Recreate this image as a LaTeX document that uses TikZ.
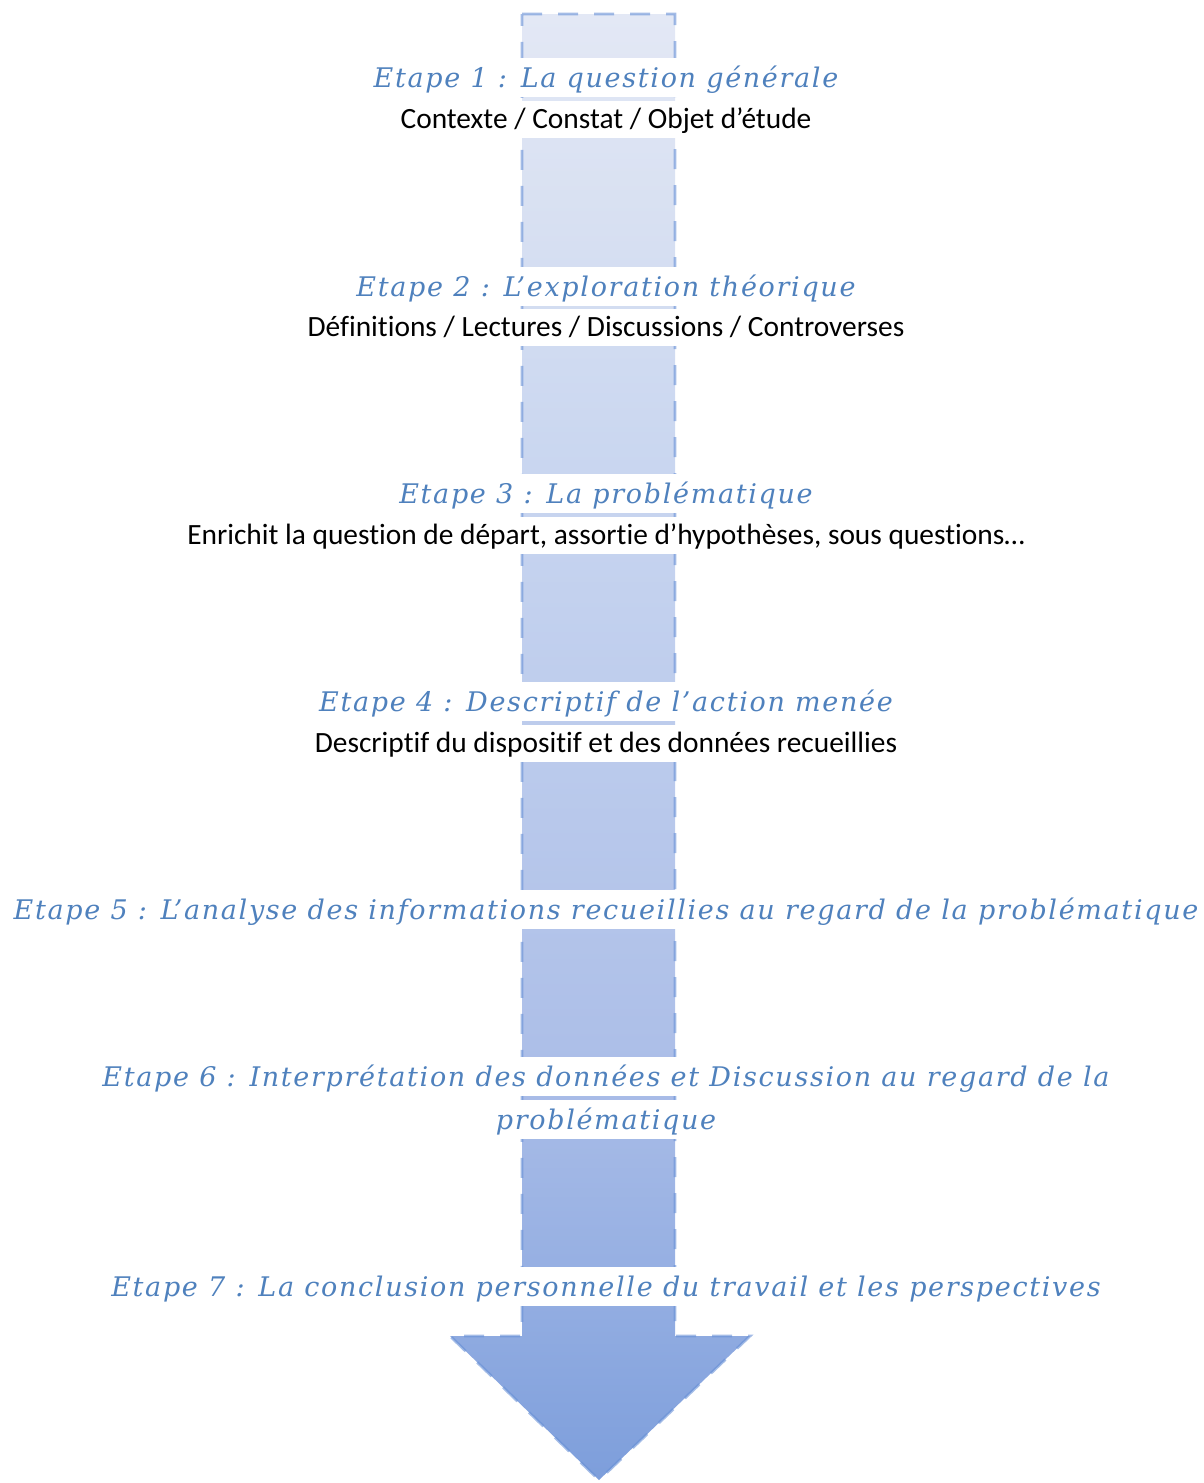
\documentclass[tikz,border=0pt]{standalone}
\usepackage{fontspec}
\setmainfont{Carlito}[Ligatures=NoCommon]
\newfontfamily\etapefont[LetterSpace=6.2]{DejaVu Serif}
\usepackage{tikz}
\definecolor{blue1}{HTML}{4F81BD}
\definecolor{blue2}{HTML}{6790D6}
\definecolor{blue3}{RGB}{227,232,245}
\definecolor{blue4}{RGB}{217,225,242}
\definecolor{blue5}{RGB}{201,214,240}
\definecolor{blue6}{RGB}{173,191,232}
\definecolor{blue7}{RGB}{148,174,226}
\definecolor{blue8}{RGB}{125,158,219}
\pgfdeclareverticalshading{flecheshade}{100bp}{color(0bp)=(blue8); color(25bp)=(blue8); color(31.5bp)=(blue7); color(39.8bp)=(blue6); color(59.5bp)=(blue5); color(68.7bp)=(blue4); color(75bp)=(blue3); color(100bp)=(blue3)}

\begin{document}
\begin{tikzpicture}[x=0.5pt, y=-0.5pt, align=center,
  etape/.style={fill=white, text=blue1, font=\etapefont\itshape\fontsize{13.5}{16}\selectfont,
    inner xsep=2pt, inner ysep=0pt, text height=14.5pt, text depth=5pt, anchor=base},
  detail/.style={fill=white, font=\fontsize{14.7}{17}\selectfont,
    inner xsep=2pt, inner ysep=0pt, text height=13.5pt, text depth=5pt, anchor=base}]
\useasboundingbox (0,0) rectangle (1204,1483);

\shadedraw[shading=flecheshade, draw=blue2, draw opacity=0.6, line width=1.4pt, dash pattern=on 10pt off 8pt]
  (522,14) -- (675,14) -- (675,1336) -- (750,1336) -- (599,1480) -- (450,1336) -- (522,1336) -- cycle;

\node[etape] (e1) at (606,87) {Etape 1 : La question générale};
\node[detail] (d1) at (606,128) {Contexte / Constat / Objet d’étude};

\node[etape] (e2) at (606,296) {Etape 2 : L’exploration théorique};
\node[detail] (d2) at (606,336) {Définitions / Lectures / Discussions / Controverses};

\node[etape] (e3) at (606,503) {Etape 3 : La problématique};
\node[detail] (d3) at (606,544) {Enrichit la question de départ, assortie d’hypothèses, sous questions…};

\node[etape] (e4) at (606,711) {Etape 4 : Descriptif de l’action menée};
\node[detail] (d4) at (606,752) {Descriptif du dispositif et des données recueillies};

\node[etape] (e5) at (606,919) {Etape 5 : L’analyse des informations recueillies au regard de la problématique};

\node[etape] (e6) at (606,1086) {Etape 6 : Interprétation des données et Discussion au regard de la};
\node[etape] (e6b) at (606,1129) {problématique};

\node[etape] (e7) at (606,1296) {Etape 7 : La conclusion personnelle du travail et les perspectives};
\end{tikzpicture}
\end{document}
